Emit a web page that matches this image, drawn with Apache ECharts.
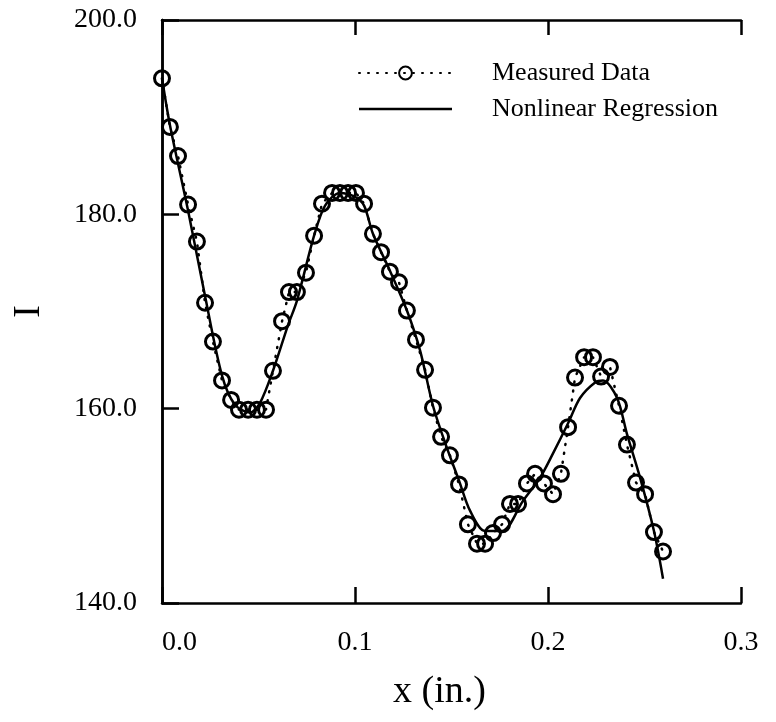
<!DOCTYPE html>
<html>
<head>
<meta charset="utf-8">
<script src="https://cdn.jsdelivr.net/npm/echarts@6/dist/echarts.min.js"></script>
<style>
html,body{margin:0;padding:0;background:#fff;}
#chart{width:776px;height:722px;}
</style>
</head>
<body>
<div id="chart"></div>
<script>
// Measured data (x in inches, I)
var measuredX = [0.0000,0.0041,0.0083,0.0135,0.0181,0.0223,0.0264,0.0311,0.0358,0.0399,0.0446,0.0492,0.0539,0.0575,0.0622,0.0658,0.0699,0.0746,0.0788,0.0829,0.0881,0.0922,0.0964,0.1005,0.1047,0.1093,0.1135,0.1181,0.1228,0.1269,0.1316,0.1363,0.1404,0.1446,0.1492,0.1539,0.1585,0.1632,0.1674,0.1715,0.1762,0.1803,0.1845,0.1891,0.1933,0.1979,0.2026,0.2067,0.2104,0.2140,0.2187,0.2233,0.2275,0.2321,0.2368,0.2409,0.2456,0.2503,0.2549,0.2596];
var measuredY = [194.0,189.0,186.0,181.0,177.2,170.9,166.9,162.9,160.9,159.9,159.9,159.9,159.9,163.9,169.0,172.0,172.0,174.0,177.8,181.1,182.2,182.2,182.2,182.2,181.1,178.0,176.1,174.1,173.0,170.1,167.1,164.0,160.1,157.1,155.2,152.2,148.1,146.1,146.1,147.2,148.1,150.2,150.2,152.3,153.3,152.3,151.2,153.3,158.1,163.2,165.3,165.3,163.3,164.3,160.3,156.3,152.4,151.2,147.3,145.3];

// Nonlinear regression curve
var fitX = [0.0000,0.0041,0.0135,0.0223,0.0311,0.0378,0.0456,0.0508,0.0575,0.0653,0.0699,0.0788,0.0845,0.0922,0.1000,0.1047,0.1093,0.1181,0.1269,0.1337,0.1404,0.1472,0.1539,0.1596,0.1674,0.1762,0.1870,0.1959,0.2026,0.2104,0.2166,0.2244,0.2285,0.2358,0.2409,0.2477,0.2549,0.2596];
var fitY = [194.0,189.2,180.4,171.6,163.4,160.4,159.6,160.6,163.9,168.6,171.1,177.8,180.9,182.2,181.8,180.9,178.0,174.2,170.1,166.0,160.3,156.2,152.6,149.5,147.4,147.4,150.5,152.9,155.4,158.5,161.1,162.7,162.9,161.1,157.4,152.9,147.4,142.5];

var seriesNames = ['Measured Data', 'Nonlinear Regression'];
var xTicks = {min: 0, max: 0.3, interval: 0.1};
var yTicks = {min: 140, max: 200, interval: 20};

function zip(a, b) { return a.map(function (v, i) { return [v, b[i]]; }); }

var FONT = 'Liberation Serif';
var chart = echarts.init(document.getElementById('chart'), null, {renderer: 'canvas'});
var axisLineStyle = {color: '#000', width: 2.5};

chart.setOption({
  animation: false,
  backgroundColor: '#fff',
  grid: {left: 162, right: 35, top: 20, bottom: 119, containLabel: false},
  legend: {
    orient: 'vertical',
    left: 353,
    top: 55,
    itemWidth: 93,
    itemHeight: 16,
    itemGap: 10,
    selectedMode: false,
    textStyle: {fontFamily: FONT, fontSize: 26, color: '#000', padding: [0, 0, 0, 35]},
    data: [
      {name: seriesNames[0]},
      {name: seriesNames[1], icon: 'path://M0,0L93,0L93,2.5L0,2.5Z', itemStyle: {color: '#000'}}
    ]
  },
  xAxis: [{
    type: 'value',
    position: 'bottom',
    min: xTicks.min, max: xTicks.max, interval: xTicks.interval,
    name: 'x (in.)',
    nameLocation: 'middle',
    nameGap: 70,
    nameTextStyle: {fontFamily: FONT, fontSize: 38, color: '#000', padding: [0, 24, 0, 0]},
    axisLine: {show: true, lineStyle: axisLineStyle},
    axisTick: {show: true, inside: true, length: 16, lineStyle: {color: '#000', width: 2.5}},
    axisLabel: {
      fontFamily: FONT, fontSize: 28, color: '#000', margin: 26,
      alignMinLabel: 'left',
      formatter: function (v) { return v.toFixed(1); }
    },
    splitLine: {show: false}
  }, {
    type: 'value',
    position: 'top',
    min: xTicks.min, max: xTicks.max, interval: xTicks.interval,
    axisLine: {show: true, lineStyle: axisLineStyle},
    axisTick: {show: true, inside: true, length: 15, lineStyle: {color: '#000', width: 2.5}},
    axisLabel: {show: false},
    splitLine: {show: false}
  }],
  yAxis: [{
    type: 'value',
    position: 'left',
    min: yTicks.min, max: yTicks.max, interval: yTicks.interval,
    name: 'I',
    nameLocation: 'middle',
    nameRotate: 90,
    nameGap: 114,
    nameTextStyle: {fontFamily: FONT, fontSize: 38, color: '#000'},
    axisLine: {show: true, lineStyle: axisLineStyle},
    axisTick: {show: true, inside: true, length: 17, lineStyle: {color: '#000', width: 2.5}},
    axisLabel: {
      fontFamily: FONT, fontSize: 28, color: '#000', margin: 25,
      formatter: function (v) { return v.toFixed(1); }
    },
    splitLine: {show: false}
  }, {
    type: 'value',
    position: 'right',
    min: yTicks.min, max: yTicks.max, interval: yTicks.interval,
    axisLine: {show: true, lineStyle: axisLineStyle},
    axisTick: {show: false},
    axisLabel: {show: false},
    splitLine: {show: false}
  }],
  series: [{
    name: seriesNames[0],
    type: 'line',
    xAxisIndex: 0, yAxisIndex: 0,
    data: zip(measuredX, measuredY),
    symbol: 'circle',
    symbolSize: 15,
    showAllSymbol: true,
    itemStyle: {color: 'rgba(0,0,0,0)', borderColor: '#000', borderWidth: 3},
    lineStyle: {color: '#000', width: 2.5, type: [1, 8], cap: 'round'},
    z: 3
  }, {
    name: seriesNames[1],
    type: 'line',
    xAxisIndex: 0, yAxisIndex: 0,
    data: zip(fitX, fitY),
    smooth: 0.3,
    showSymbol: false,
    itemStyle: {color: '#000'},
    lineStyle: {color: '#000', width: 2.5},
    z: 2
  }]
});
</script>
</body>
</html>
